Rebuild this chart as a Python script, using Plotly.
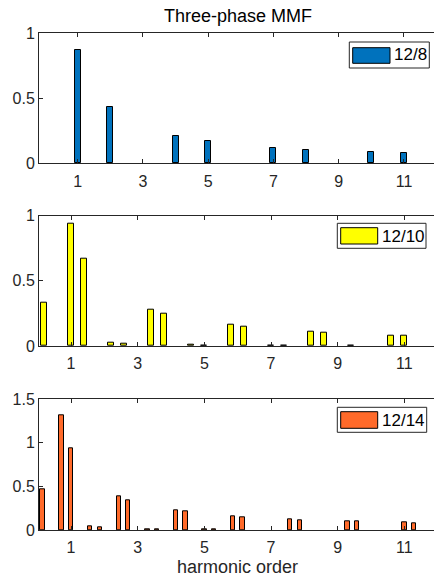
import plotly.graph_objects as go
from plotly.subplots import make_subplots

# Harmonic orders (relative to the fundamental) and normalised MMF amplitudes
order_12_8 = [1, 2, 4, 5, 7, 8, 10, 11]
mmf_12_8 = [0.867, 0.429, 0.211, 0.168, 0.12, 0.104, 0.084, 0.077]

order_12_10 = [0.2, 1, 1.4, 2.2, 2.6, 3.4, 3.8, 4.6, 5, 5.8, 6.2, 7, 7.4,
               8.2, 8.6, 9.4, 10.6, 11]
mmf_12_10 = [0.332, 0.94, 0.673, 0.028, 0.02, 0.276, 0.248, 0.013, 0.005,
             0.161, 0.148, 0.004, 0.004, 0.113, 0.105, 0.004, 0.082, 0.082]

order_12_14 = [0.14, 0.71, 1, 1.57, 1.86, 2.43, 2.71, 3.29, 3.57, 4.14, 4.43,
               5, 5.29, 5.86, 6.14, 7.57, 7.86, 9.29, 9.57, 11, 11.29]
mmf_12_14 = [0.47, 1.315, 0.933, 0.046, 0.034, 0.383, 0.341, 0.005, 0.005,
             0.222, 0.214, 0.004, 0.004, 0.161, 0.149, 0.118, 0.115,
             0.095, 0.095, 0.084, 0.077]

series_names = ["12/8", "12/10", "12/14"]
series_colors = ["#0072BD", "#FFFF00", "#FF6A2A"]
x_ticks = [1, 3, 5, 7, 9, 11]

W, H = 434, 579
ML, MR, MT, MB = 39, 0, 33, 49
PW, PH = W - ML - MR, H - MT - MB
AX = "#262626"
FONT = "Liberation Sans, Arial, sans-serif"


def px_x(p):
    return (p - ML) / PW


def px_y(p):
    return (H - MB - p) / PH


fig = make_subplots(rows=3, cols=1)

traces = [
    (order_12_8, mmf_12_8, 0.185),
    (order_12_10, mmf_12_10, 0.18),
    (order_12_14, mmf_12_14, 0.13),
]
for i, (xs, ys, bw) in enumerate(traces):
    fig.add_trace(
        go.Bar(x=xs, y=ys, width=bw, name=series_names[i],
               marker=dict(color=series_colors[i],
                           line=dict(color="black", width=1)),
               showlegend=False),
        row=i + 1, col=1)

# pixel rows of each axes box (top, bottom)
rows_px = [(33, 163.3), (215.7, 346), (399.3, 530)]
x_ranges = [[-0.186, 11.92], [0.04, 11.89], [0.04, 11.89]]
y_ranges = [[0, 1], [0, 1], [0, 1.5]]
y_ticks = [[0, 0.5, 1], [0, 0.5, 1], [0, 0.5, 1, 1.5]]

for i in range(3):
    top, bot = rows_px[i]
    sfx = "" if i == 0 else str(i + 1)
    fig.layout["xaxis" + sfx].update(
        domain=[0, 1], range=x_ranges[i], tickvals=x_ticks,
        ticks="inside", ticklen=4, tickcolor=AX, showline=True,
        linecolor=AX, linewidth=1, mirror="ticks", showgrid=False,
        zeroline=False, ticklabelstandoff=3,
        tickfont=dict(size=16, color=AX, family=FONT))
    fig.layout["yaxis" + sfx].update(
        domain=[px_y(bot), px_y(top)], range=y_ranges[i],
        tickvals=y_ticks[i], ticktext=[f"{v:g}" for v in y_ticks[i]],
        ticks="inside", ticklen=4, tickcolor=AX, showline=True,
        linecolor=AX, linewidth=1, showgrid=False, zeroline=False,
        tickfont=dict(size=16, color=AX, family=FONT))

# legend boxes drawn per axes: (box, swatch, text-left, text-centre-y)
legends = [
    ((349.3, 42, 429.3, 68), (352.7, 47.7, 390, 63.3), 392, 55),
    ((337.3, 223.3, 426, 248.3), (340.7, 227.7, 377.7, 244), 380, 236),
    ((337.3, 407.3, 426.7, 432.3), (340.7, 411.7, 377.7, 428.3), 380, 420),
]
shapes = []
annotations = []
for i, (box, sw, tx, ty) in enumerate(legends):
    shapes.append(dict(type="rect", xref="paper", yref="paper",
                       x0=px_x(box[0]), x1=px_x(box[2]),
                       y0=px_y(box[3]), y1=px_y(box[1]),
                       fillcolor="white", line=dict(color=AX, width=1)))
    shapes.append(dict(type="rect", xref="paper", yref="paper",
                       x0=px_x(sw[0]), x1=px_x(sw[2]),
                       y0=px_y(sw[3]), y1=px_y(sw[1]),
                       fillcolor=series_colors[i],
                       line=dict(color="black", width=1)))
    annotations.append(dict(text=series_names[i], xref="paper", yref="paper",
                            x=px_x(tx), y=px_y(ty), xanchor="left",
                            yanchor="middle", showarrow=False,
                            font=dict(size=17, color="black", family=FONT)))

annotations.append(dict(text="Three-phase MMF", xref="paper", yref="paper",
                        x=px_x(237.5), y=px_y(16), xanchor="center",
                        yanchor="middle", showarrow=False,
                        font=dict(size=18, color="black", family=FONT)))
annotations.append(dict(text="harmonic order", xref="paper", yref="paper",
                        x=px_x(237.5), y=px_y(567), xanchor="center",
                        yanchor="middle", showarrow=False,
                        font=dict(size=18, color=AX, family=FONT)))

fig.update_layout(
    width=W, height=H, autosize=False,
    margin=dict(l=ML, r=MR, t=MT, b=MB, pad=0),
    paper_bgcolor="white", plot_bgcolor="white",
    shapes=shapes, annotations=annotations,
    bargap=0, showlegend=False,
)

fig.write_html("out.html")
